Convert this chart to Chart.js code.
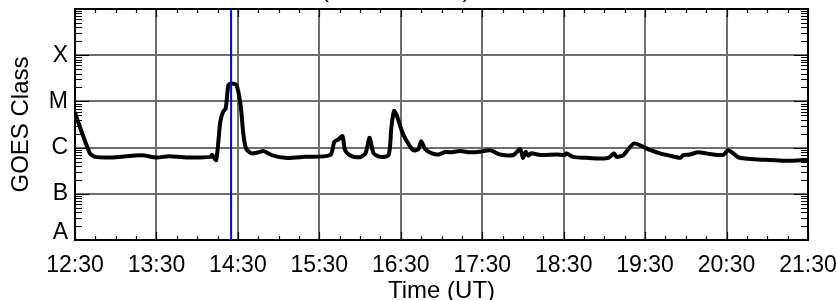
<!DOCTYPE html>
<html>
<head>
<meta charset="utf-8">
<script src="https://cdn.jsdelivr.net/npm/chart.js@4.4.1/dist/chart.umd.min.js"></script>
<style>
  html, body { margin: 0; padding: 0; background: #ffffff; }
  #wrap { width: 836px; height: 300px; }
</style>
</head>
<body>
<div id="wrap"><canvas id="c" width="836" height="300"></canvas></div>
<script>
// ---- data ----
const chartTitle = 'GOES XRS (0.1 – 0.8 nm)';
const xAxisTitle = 'Time (UT)';
const yAxisTitle = 'GOES Class';
const xTickLabels = ['12:30','13:30','14:30','15:30','16:30','17:30','18:30','19:30','20:30','21:30'];
const yTickValues = [1e-8, 1e-7, 1e-6, 1e-5, 1e-4, 1e-3];
const yTickLabels = ['A', 'B', 'C', 'M', 'X', ''];
const markerTime = '14:25';

const times = ['12:30','12:41','12:45','12:56','13:19','13:30','13:39','13:55','14:10','14:11',
  '14:14','14:17','14:19','14:21','14:23','14:25','14:29','14:32','14:34','14:36',
  '14:40','14:45','14:49','14:55','15:05','15:19','15:38','15:41','15:44','15:47',
  '15:49','15:53','16:00','16:04','16:07','16:10','16:15','16:21','16:23','16:25',
  '16:27','16:31','16:34','16:39','16:43','16:45','16:48','16:53','16:58','17:03',
  '17:06','17:14','17:21','17:28','17:36','17:43','17:53','17:58','18:00','18:02',
  '18:04','18:06','18:13','18:25','18:31','18:32','18:37','18:47','18:57','19:03',
  '19:07','19:09','19:14','19:18','19:22','19:26','19:34','19:41','19:48','19:56',
  '19:58','20:03','20:09','20:15','20:24','20:28','20:31','20:35','20:39','20:50',
  '21:02','21:14','21:30'];
const flux = [5.6e-6,7.5e-7,6.3e-7,6.1e-7,6.8e-7,6.1e-7,6.5e-7,6.1e-7,6.3e-7,6.9e-7,
  5.4e-7,3.6e-6,5.9e-6,7.0e-6,2.24e-5,2.44e-5,2.24e-5,8.3e-6,2.0e-6,9.6e-7,
  7.5e-7,7.9e-7,8.4e-7,6.9e-7,6.0e-7,6.3e-7,6.9e-7,1.33e-6,1.5e-6,1.77e-6,
  8.8e-7,6.7e-7,6.2e-7,7.5e-7,1.63e-6,7.5e-7,6.3e-7,6.9e-7,2.6e-6,6.2e-6,
  5.0e-6,2.2e-6,1.45e-6,8.8e-7,9.3e-7,1.38e-6,9.3e-7,7.5e-7,7.1e-7,8.1e-7,
  7.9e-7,8.4e-7,7.9e-7,8.1e-7,8.8e-7,7.1e-7,6.9e-7,9.3e-7,6.0e-7,8.1e-7,
  6.7e-7,7.5e-7,6.9e-7,7.1e-7,6.9e-7,7.5e-7,6.3e-7,6.0e-7,5.8e-7,6.0e-7,
  7.5e-7,6.3e-7,6.9e-7,9.6e-7,1.23e-6,1.13e-6,8.8e-7,7.5e-7,6.7e-7,6.0e-7,
  6.9e-7,7.1e-7,7.9e-7,7.5e-7,6.9e-7,7.1e-7,8.8e-7,7.5e-7,6.1e-7,5.6e-7,
  5.4e-7,5.2e-7,5.4e-7];

// ---- helpers ----
const toMin = s => { const [h, m] = s.split(':').map(Number); return h * 60 + m; };
const fmt = v => { const h = Math.floor(v / 60), m = Math.round(v - h * 60); return h + ':' + String(m).padStart(2, '0'); };
const FONT = 'Liberation Sans, Arial, Helvetica, sans-serif';
const GRID = '#6e6e6e';
const xMin = toMin(xTickLabels[0]), xMax = toMin(xTickLabels[xTickLabels.length - 1]);
const yMin = yTickValues[0], yMax = yTickValues[yTickValues.length - 1];

const curve = times.map((t, i) => ({ x: toMin(t), y: flux[i] }));
const marker = [{ x: toMin(markerTime), y: yMin }, { x: toMin(markerTime), y: yMax }];

const framePlugin = {
  id: 'frame',
  afterDraw(chart) {
    const { ctx, chartArea: a, scales: { x, y } } = chart;
    ctx.save();
    ctx.strokeStyle = '#000';
    // minor ticks on x (every 15 min), inward at bottom and top
    ctx.lineWidth = 1.2;
    ctx.beginPath();
    for (let v = xMin; v <= xMax; v += 15) {
      const px = Math.round(x.getPixelForValue(v)) + 0.5;
      const len = (v - xMin) % 60 === 0 ? 8 : 4;
      ctx.moveTo(px, a.bottom); ctx.lineTo(px, a.bottom - len);
      ctx.moveTo(px, a.top); ctx.lineTo(px, a.top + len);
    }
    // log minor ticks on y, left and right
    for (let k = -8; k < -3; k++) {
      for (let m = 1; m <= 9; m++) {
        const v = m * Math.pow(10, k);
        const py = Math.round(y.getPixelForValue(v)) + 0.5;
        const len = m === 1 ? 14 : 7;
        ctx.moveTo(a.left, py); ctx.lineTo(a.left + len, py);
        ctx.moveTo(a.right, py); ctx.lineTo(a.right - len, py);
      }
    }
    ctx.stroke();
    // frame
    ctx.lineWidth = 2;
    ctx.strokeRect(a.left, a.top, a.right - a.left, a.bottom - a.top);
    // title (mostly above the picture edge)
    ctx.fillStyle = '#000';
    ctx.font = '24px ' + FONT;
    ctx.textBaseline = 'alphabetic';
    ctx.textAlign = 'left';
    const prefix = chartTitle.slice(0, chartTitle.indexOf('('));
    const startX = 321 - ctx.measureText(prefix).width;
    ctx.fillText(chartTitle, startX, -3.5);
    ctx.restore();
  }
};

new Chart(document.getElementById('c'), {
  type: 'line',
  data: {
    datasets: [
      { data: marker, borderColor: '#0000ff', borderWidth: 2, pointRadius: 0, tension: 0 },
      { data: curve, borderColor: '#000000', borderWidth: 4, pointRadius: 0, tension: 0.25,
        borderJoinStyle: 'round', borderCapStyle: 'round' }
    ]
  },
  options: {
    responsive: false,
    animation: false,
    devicePixelRatio: 1,
    layout: { padding: { left: 0, right: 28, top: 9, bottom: 0 } },
    plugins: { legend: { display: false }, tooltip: { enabled: false }, title: { display: false } },
    scales: {
      x: {
        type: 'linear', min: xMin, max: xMax,
        afterBuildTicks: s => { s.ticks = xTickLabels.map(l => ({ value: toMin(l) })); },
        afterFit: s => { s.height = 60; s.paddingLeft = 0; s.paddingRight = 0; },
        ticks: { callback: v => fmt(v), color: '#000', font: { family: FONT, size: 23 }, padding: 12,
          maxRotation: 0, autoSkip: false },
        grid: { color: c => (c.tick && (c.tick.value === xMin || c.tick.value === xMax)) ? 'rgba(0,0,0,0)' : GRID,
          lineWidth: 2, drawTicks: false },
        border: { display: false },
        title: { display: true, text: xAxisTitle, color: '#000', font: { family: FONT, size: 24, lineHeight: 0.7 },
          padding: { top: 0, bottom: 0 } }
      },
      y: {
        type: 'logarithmic', min: yMin, max: yMax,
        afterBuildTicks: s => {
          // keep the lowest label inside the frame, as in the reference
          s.ticks = yTickValues.map((v, i) => ({ value: i === 0 ? v * Math.pow(10, 0.15) : v }));
        },
        afterFit: s => { s.width = 75; s.paddingTop = 0; s.paddingBottom = 0; },
        ticks: { callback: (v, i) => yTickLabels[i], color: '#000', font: { family: FONT, size: 23 }, padding: 7,
          autoSkip: false },
        grid: { color: c => (c.tick && (c.index === 0 || c.index === yTickValues.length - 1)) ? 'rgba(0,0,0,0)' : GRID,
          lineWidth: 2, drawTicks: false },
        border: { display: false },
        title: { display: true, text: yAxisTitle, color: '#000', font: { family: FONT, size: 24 },
          padding: { top: 7.3, bottom: 0 } }
      }
    }
  },
  plugins: [framePlugin]
});
</script>
</body>
</html>
